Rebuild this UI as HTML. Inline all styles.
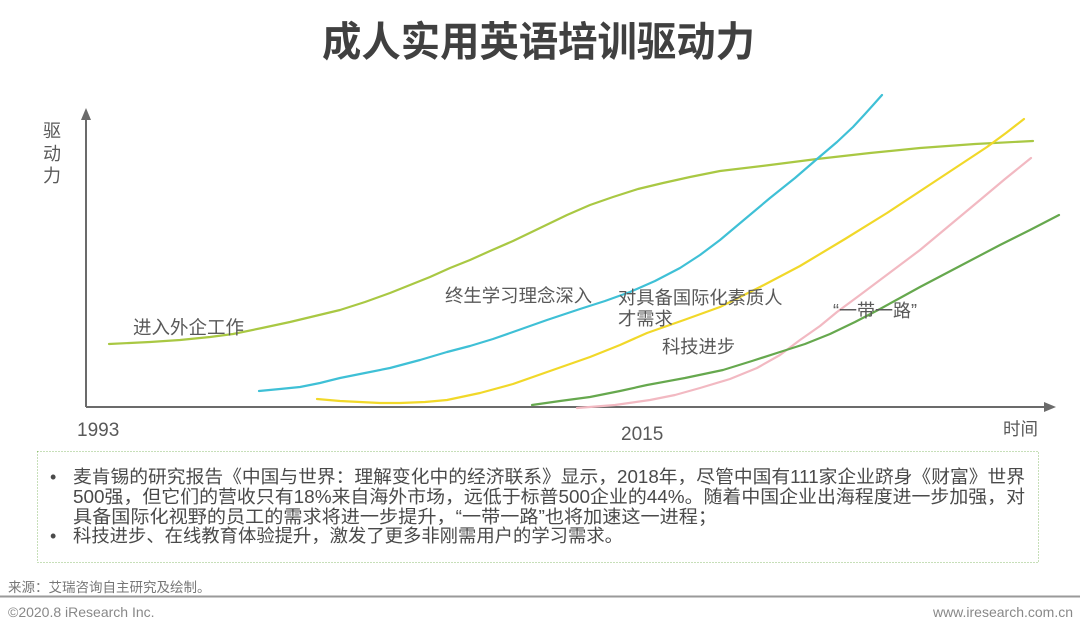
<!DOCTYPE html>
<html><head><meta charset="utf-8">
<style>
html,body{margin:0;padding:0;background:#fff;}
svg{display:block;}
text{font-family:"Liberation Sans","Noto Sans CJK SC",sans-serif;}
</style></head>
<body>
<svg width="1080" height="632" viewBox="0 0 1080 632" xmlns="http://www.w3.org/2000/svg">
<rect width="1080" height="632" fill="#fff"/>
<!-- Title -->
<text x="322" y="56" font-size="41" font-weight="bold" fill="#404040" textLength="433" lengthAdjust="spacingAndGlyphs">成人实用英语培训驱动力</text>

<!-- Axes -->
<g stroke="#6b6b6b" stroke-width="2" fill="none">
  <line x1="86" y1="407" x2="86" y2="116"/>
  <line x1="86" y1="407" x2="1046" y2="407"/>
</g>
<polygon points="86,108 81,120 91,120" fill="#6b6b6b"/>
<polygon points="1056,407 1044,402 1044,412" fill="#6b6b6b"/>

<!-- Curves -->
<g fill="none" stroke-width="2.2" stroke-linejoin="round" stroke-linecap="round">
  <polyline stroke="#a9c843" points="109,344 150,342 180,340 210,337 233,334 262,328 290,322 315,316 340,310 365,302 390,293 410,285 430,277 450,268 470,260 490,251 513,241 540,228 567,215 590,205 613,197 638,189 663,183 690,177 720,171 770,165 817,159 870,153 920,148 975,144 1033,141"/>
  <polyline stroke="#3fc0d6" points="259,391 280,389 300,387 320,383 340,378 365,373 390,368 420,360 447,352 470,346 493,339 513,332 547,320 580,309 605,301 630,292 655,281 680,268 700,255 720,240 745,219 770,198 795,178 817,159 837,142 853,127 865,114 874,104 882,95"/>
  <polyline stroke="#f1d829" points="317,399 340,401 360,402 380,403 400,403 425,402 447,400 480,393 513,384 550,371 590,357 620,345 647,333 684,320 720,307 760,287 800,266 845,239 887,213 937,180 987,147 1006,133 1024,119"/>
  <polyline stroke="#f2b9c2" points="577,408 615,405 650,400 675,395 700,388 730,379 757,368 780,355 800,340 820,326 837,312 860,295 880,280 900,265 920,250 950,225 980,200 1005,179 1031,158"/>
  <polyline stroke="#66a84e" points="532,405 560,401 590,397 620,391 647,385 685,378 723,370 752,361 780,352 805,344 830,334 855,322 880,309 900,298 920,287 960,266 1000,245 1030,230 1059,215"/>
</g>

<!-- Chart labels -->
<g fill="#595959" font-size="18">
  <text x="43" y="137">驱</text>
  <text x="43" y="160">动</text>
  <text x="43" y="182">力</text>
  <text x="133" y="334" font-size="18.5">进入外企工作</text>
  <text x="445" y="302" font-size="18.4">终生学习理念深入</text>
  <text x="618" y="304" font-size="18.3">对具备国际化素质人</text>
  <text x="618" y="325" font-size="18.3">才需求</text>
  <text x="662" y="353" font-size="18.3">科技进步</text>
  <text x="833" y="317" font-size="18">“一带一路”</text>
  <text x="77" y="436" font-size="19">1993</text>
  <text x="621" y="440" font-size="19">2015</text>
  <text x="1003" y="435" font-size="17.5">时间</text>
</g>

<!-- Box -->
<rect x="37.5" y="451.5" width="1001" height="111" fill="none" stroke="#8fbf73" stroke-width="1" stroke-dasharray="1,2"/>
<g fill="#4a4a4a" font-size="18">
  <text x="50" y="483">•</text>
  <text x="50" y="542">•</text>
  <text x="73" y="483" textLength="952" lengthAdjust="spacingAndGlyphs">麦肯锡的研究报告《中国与世界：理解变化中的经济联系》显示，2018年，尽管中国有111家企业跻身《财富》世界</text>
  <text x="73" y="503" textLength="952" lengthAdjust="spacingAndGlyphs">500强，但它们的营收只有18%来自海外市场，远低于标普500企业的44%。随着中国企业出海程度进一步加强，对</text>
  <text x="73" y="523" textLength="644" lengthAdjust="spacingAndGlyphs">具备国际化视野的员工的需求将进一步提升，“一带一路”也将加速这一进程；</text>
  <text x="73" y="542" textLength="550" lengthAdjust="spacingAndGlyphs">科技进步、在线教育体验提升，激发了更多非刚需用户的学习需求。</text>
</g>

<!-- Footer -->
<text x="8" y="592" font-size="13.5" fill="#777">来源：艾瑞咨询自主研究及绘制。</text>
<line x1="0" y1="596.5" x2="1080" y2="596.5" stroke="#9a9a9a" stroke-width="2"/>
<text x="8" y="617" font-size="14" fill="#888">©2020.8 iResearch Inc.</text>
<text x="1073" y="617" font-size="14" fill="#888" text-anchor="end">www.iresearch.com.cn</text>
</svg>
</body></html>
